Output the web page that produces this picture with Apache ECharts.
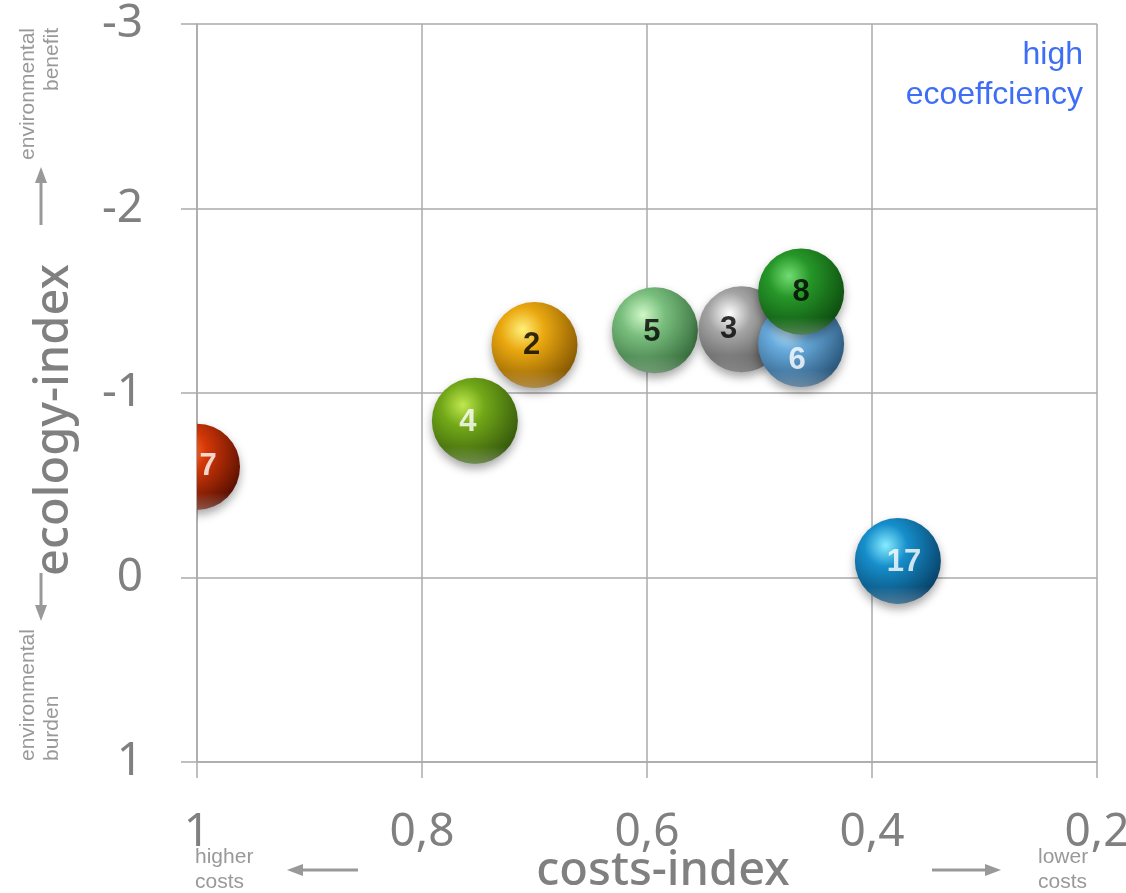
<!DOCTYPE html>
<html><head><meta charset="utf-8">
<script src="https://cdn.jsdelivr.net/npm/echarts@6/dist/echarts.min.js"></script>
<style>html,body{margin:0;padding:0;background:#fff}#c{width:1126px;height:893px}</style>
</head><body><div id="c"></div>
<script>
// ---- data ----
const pointLabels = ['7', '4', '2', '5', '3', '6', '8', '17'];
const costsIndex = [1.0, 0.753, 0.700, 0.593, 0.516, 0.463, 0.463, 0.377];
const ecologyIndex = [-0.60, -0.85, -1.26, -1.34, -1.345, -1.265, -1.55, -0.09];
const xTicks = [1, 0.8, 0.6, 0.4, 0.2];
const yTicks = [-3, -2, -1, 0, 1];
const xName = 'costs-index';
const yName = 'ecology-index';

// ---- styles ----
const palette = [
  ['#ff7a3a', '#d43808', '#4a0a00'],
  ['#c0e850', '#72a818', '#2e500a'],
  ['#fff07a', '#eaa810', '#7a4e00'],
  ['#d0f8c8', '#7abf7e', '#2e6234'],
  ['#ffffff', '#a4a4a4', '#484848'],
  ['#d0f0ff', '#68acde', '#224a6c'],
  ['#72dc72', '#269628', '#0a440c'],
  ['#86ecff', '#168ecb', '#06385c']
];
const labelColors = ['#fff', '#fff', '#000', '#000', '#000', '#fff', '#000', '#fff'];
const labelShift = [[11, 0], [-7, 2], [-3, 0], [-3, 2], [-13, 0], [-4, 16], [0, 1], [6, 2]];
const R = 43;
const gridColor = '#aaaaaa';
const textGray = '#808080';
const annGray = '#999999';

const chart = echarts.init(document.getElementById('c'));
const pts = costsIndex.map((x, i) => [x, ecologyIndex[i]]);

function fmtX(v) { return String(+(+v).toFixed(1)).replace('.', ','); }

const option = {
  backgroundColor: '#fff',
  animation: false,
  grid: { left: 197, right: 29, top: 24, bottom: 131, containLabel: false, outerBoundsMode: 'none' },
  xAxis: {
    type: 'value', inverse: true, min: 0.2, max: 1, interval: 0.2,
    name: xName, nameLocation: 'middle', nameGap: 86, nameMoveOverlap: false,
    nameTextStyle: { fontSize: 47, color: textGray, fontFamily: 'Noto Sans', fontWeight: 500, padding: [0, 0, 0, 32] },
    axisLine: { show: true, onZero: false, lineStyle: { color: gridColor, width: 1.5 } },
    axisTick: { show: true, length: 16, lineStyle: { color: gridColor, width: 1.5 } },
    splitLine: { show: true, lineStyle: { color: gridColor, width: 1.5 } },
    axisLabel: { fontSize: 46, color: textGray, margin: 48, fontFamily: 'Noto Sans',
      formatter: v => fmtX(v) }
  },
  yAxis: {
    type: 'value', inverse: true, min: -3, max: 1, interval: 1,
    name: yName, nameLocation: 'middle', nameGap: 119, nameMoveOverlap: false,
    nameTextStyle: { fontSize: 47, color: textGray, fontFamily: 'Noto Sans', fontWeight: 500, padding: [0, 54, 0, 0] },
    axisLine: { show: true, onZero: false, lineStyle: { color: gridColor, width: 1.5 } },
    axisTick: { show: true, length: 16, lineStyle: { color: gridColor, width: 1.5 } },
    splitLine: { show: true, lineStyle: { color: gridColor, width: 1.5 } },
    axisLabel: { fontSize: 46, color: textGray, margin: 54, fontFamily: 'Noto Sans' }
  },
  series: [
    {
      type: 'custom',
      clip: true,
      silent: true,
      data: pts,
      renderItem: function (params, api) {
        const p = api.coord([api.value(0), api.value(1)]);
        const c = palette[params.dataIndex];
        return {
          type: 'group',
          children: [
            {
              type: 'circle',
              shape: { cx: p[0], cy: p[1], r: R },
              style: {
                fill: new echarts.graphic.RadialGradient(0.36, 0.32, 0.78, [
                  { offset: 0, color: c[0] },
                  { offset: 0.32, color: c[1] },
                  { offset: 1, color: c[2] }
                ]),
                shadowBlur: 10, shadowOffsetY: 5, shadowColor: 'rgba(0,0,0,0.35)'
              }
            },
            {
              type: 'circle',
              shape: { cx: p[0], cy: p[1], r: R },
              style: {
                fill: new echarts.graphic.LinearGradient(0, 0, 0, 1, [
                  { offset: 0, color: 'rgba(255,255,255,0)' },
                  { offset: 0.8, color: 'rgba(255,255,255,0)' },
                  { offset: 1, color: 'rgba(255,255,255,0.28)' }
                ])
              }
            }
          ]
        };
      },
      z: 2
    },
    {
      type: 'scatter',
      clip: false,
      silent: true,
      symbol: 'circle',
      symbolSize: 2 * R,
      itemStyle: { color: 'rgba(0,0,0,0)' },
      data: pts.map((p, i) => ({
        value: p,
        label: { color: labelColors[i], offset: labelShift[i] }
      })),
      label: {
        show: true, position: 'inside',
        fontSize: 31, fontWeight: 'bold', fontFamily: 'Liberation Sans',
        textBorderWidth: 0,
        formatter: p => pointLabels[p.dataIndex]
      },
      z: 5
    }
  ],
  graphic: [
    { type: 'text', x: 16, y: 28, rotation: Math.PI / 2,
      style: { text: 'environmental\nbenefit', fontSize: 21, lineHeight: 24, fill: annGray,
        fontFamily: 'Liberation Sans', align: 'right', verticalAlign: 'top' } },
    { type: 'text', x: 16, y: 761, rotation: Math.PI / 2,
      style: { text: 'environmental\nburden', fontSize: 21, lineHeight: 24, fill: annGray,
        fontFamily: 'Liberation Sans', align: 'left', verticalAlign: 'top' } },
    { type: 'line', shape: { x1: 41, y1: 225, x2: 41, y2: 180 }, style: { stroke: annGray, lineWidth: 3 } },
    { type: 'polygon', shape: { points: [[41, 167], [35, 183], [47, 183]] }, style: { fill: annGray } },
    { type: 'line', shape: { x1: 41, y1: 573, x2: 41, y2: 608 }, style: { stroke: annGray, lineWidth: 3 } },
    { type: 'polygon', shape: { points: [[41, 621], [35, 605], [47, 605]] }, style: { fill: annGray } },
    { type: 'line', shape: { x1: 358, y1: 870, x2: 300, y2: 870 }, style: { stroke: annGray, lineWidth: 3 } },
    { type: 'polygon', shape: { points: [[287, 870], [303, 864], [303, 876]] }, style: { fill: annGray } },
    { type: 'line', shape: { x1: 932, y1: 870, x2: 988, y2: 870 }, style: { stroke: annGray, lineWidth: 3 } },
    { type: 'polygon', shape: { points: [[1001, 870], [985, 864], [985, 876]] }, style: { fill: annGray } },
    { type: 'text', x: 195, y: 845,
      style: { text: 'higher\ncosts', fontSize: 21, lineHeight: 25, fill: annGray,
        fontFamily: 'Liberation Sans', align: 'left', verticalAlign: 'top' } },
    { type: 'text', x: 1038, y: 845,
      style: { text: 'lower\ncosts', fontSize: 21, lineHeight: 25, fill: annGray,
        fontFamily: 'Liberation Sans', align: 'left', verticalAlign: 'top' } },
    { type: 'text', x: 1083, y: 75,
      style: { text: 'high\necoeffciency', fontSize: 32, lineHeight: 40, fill: '#3d6ef5',
        fontFamily: 'Liberation Sans', align: 'right', verticalAlign: 'middle' } }
  ]
};
chart.setOption(option);
</script>
</body></html>
